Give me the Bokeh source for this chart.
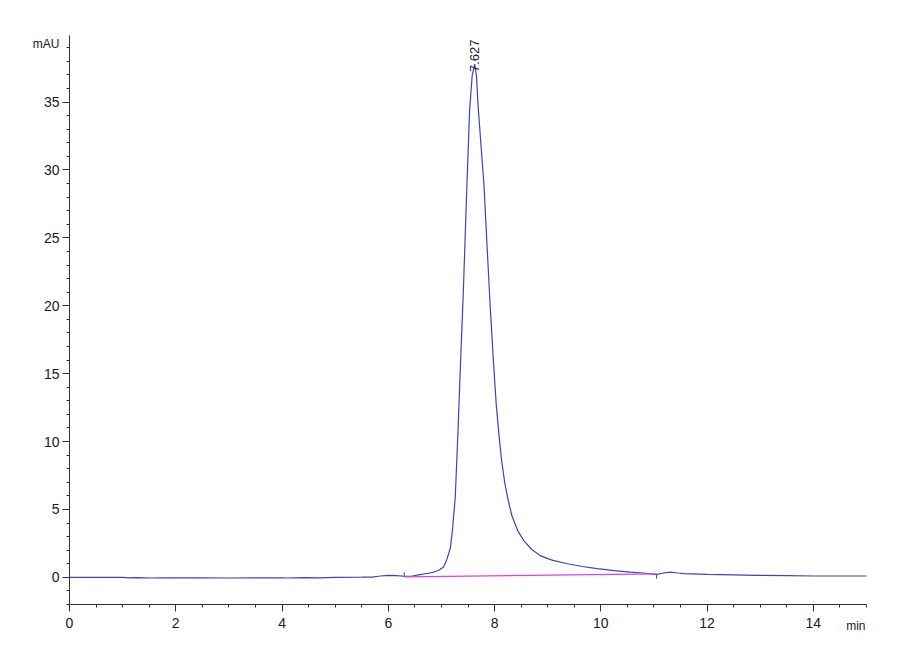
import math
from bokeh.plotting import figure
from bokeh.models import Range1d, SingleIntervalTicker, Label, ColumnDataSource
from bokeh.core.properties import value
from bokeh.embed import file_html
from bokeh.resources import INLINE

# ---- data ----
time_min = [0, 0.5, 1.0, 1.1, 1.3, 1.5, 1.8, 2.0, 2.5, 3.0,
            3.5, 4.0, 4.1, 4.4, 4.7, 5.0, 5.5, 5.7, 5.85, 6.0,
            6.15, 6.3, 6.45, 6.6, 6.75, 6.86, 6.95, 7.04, 7.1, 7.17,
            7.21, 7.26, 7.31, 7.37, 7.41, 7.47, 7.53, 7.58, 7.627, 7.66,
            7.69, 7.745, 7.80, 7.86, 7.92, 7.98, 8.03, 8.08, 8.13, 8.19,
            8.26, 8.33, 8.44, 8.55, 8.70, 8.86, 9.0, 9.1, 9.37, 9.65,
            9.93, 10.25, 10.56, 10.85, 11.05, 11.15, 11.31, 11.45, 11.56, 12.0,
            12.5, 12.94, 13.5, 14.0, 14.5, 15.0]
signal_mau = [0.0, 0.0, 0.0, -0.04, -0.02, -0.05, -0.03, -0.04, -0.04, -0.05,
              -0.04, -0.03, -0.05, -0.02, -0.04, 0.0, 0.01, 0.02, 0.1, 0.15,
              0.12, 0.08, 0.1, 0.2, 0.3, 0.39, 0.52, 0.76, 1.3, 2.2,
              3.6, 5.9, 10.6, 16.9, 20.8, 27.8, 34.4, 37.0, 37.8, 36.9,
              34.7, 31.8, 28.9, 24.3, 19.8, 15.8, 12.8, 10.6, 8.7, 7.0,
              5.6, 4.5, 3.4, 2.7, 2.05, 1.6, 1.38, 1.25, 1.0, 0.8,
              0.64, 0.5, 0.39, 0.3, 0.2, 0.3, 0.39, 0.32, 0.27, 0.22,
              0.18, 0.15, 0.12, 0.1, 0.1, 0.1]

baseline_t = [6.30, 11.05]
baseline_y = [0.03, 0.25]

peak_time = [7.627]
peak_height = [37.8]
peak_label = ["7.627"]

x_axis_span = (0, 15)
y_axis_span = (-2, 39.9)

FONT = "Liberation Sans"
AXIS_COL = "#333333"
TEXT_COL = "#1a1a1a"

W, H = 880, 640
# pixel placement of the axis box inside the canvas
left_px, right_px, top_px, bottom_px = 69, 866, 35, 604
sx = (right_px - left_px) / (x_axis_span[1] - x_axis_span[0])
sy = (bottom_px - top_px) / (y_axis_span[1] - y_axis_span[0])
x_range = Range1d(x_axis_span[0] - left_px / sx, x_axis_span[1] + (W - right_px) / sx)
y_range = Range1d(y_axis_span[0] - (H - bottom_px) / sy, y_axis_span[1] + top_px / sy)

p = figure(width=W, height=H, output_backend="svg", toolbar_location=None,
           x_range=x_range, y_range=y_range)
p.min_border_left = 0
p.min_border_right = 0
p.min_border_top = 0
p.min_border_bottom = 0
p.outline_line_color = None
p.background_fill_color = "white"
p.border_fill_color = "white"
p.grid.visible = False

p.xaxis.fixed_location = y_axis_span[0]
p.yaxis.fixed_location = x_axis_span[0]
p.xaxis.bounds = x_axis_span
p.yaxis.bounds = y_axis_span
p.xaxis.ticker = SingleIntervalTicker(interval=2, num_minor_ticks=4)
p.yaxis.ticker = SingleIntervalTicker(interval=5, num_minor_ticks=5)
for ax in (p.xaxis, p.yaxis):
    ax.axis_line_color = AXIS_COL
    ax.major_tick_line_color = AXIS_COL
    ax.minor_tick_line_color = AXIS_COL
    ax.major_tick_in = 0
    ax.major_tick_out = 7
    ax.minor_tick_in = 0
    ax.minor_tick_out = 3
    ax.major_label_text_font = FONT
    ax.major_label_text_font_size = "14px"
    ax.major_label_text_color = TEXT_COL
p.xaxis.major_label_standoff = 6
p.yaxis.major_label_standoff = 3

src = ColumnDataSource(dict(t=time_min, s=signal_mau))
p.line("t", "s", source=src, line_color="#4040c4", line_width=1.2)

# integration baseline and its markers
p.line(baseline_t, baseline_y, line_color="#e040e0", line_width=1.2)
p.segment(x0=[baseline_t[0]], y0=[baseline_y[0]], x1=[baseline_t[0]], y1=[baseline_y[0] + 0.35],
          line_color="#555555", line_width=1)
p.segment(x0=[baseline_t[1]], y0=[baseline_y[1]], x1=[baseline_t[1]], y1=[baseline_y[1] - 0.35],
          line_color="#555555", line_width=1)

# peak retention time label
p.text(x=peak_time, y=peak_height, text=peak_label, angle=math.pi / 2,
       text_align="left", text_baseline="middle", y_offset=8,
       text_font=value(FONT), text_font_size="13px", text_color=TEXT_COL)

p.add_layout(Label(x=x_axis_span[0], y=39.3, x_offset=-10, text="mAU",
                   text_align="right", text_baseline="middle",
                   text_font=FONT, text_font_size="12px", text_color=TEXT_COL))
p.add_layout(Label(x=x_axis_span[1], y=y_axis_span[0], x_offset=-1, y_offset=-21, text="min",
                   text_align="right", text_baseline="middle",
                   text_font=FONT, text_font_size="12px", text_color=TEXT_COL))

open("out.html", "w").write(file_html(p, INLINE))
